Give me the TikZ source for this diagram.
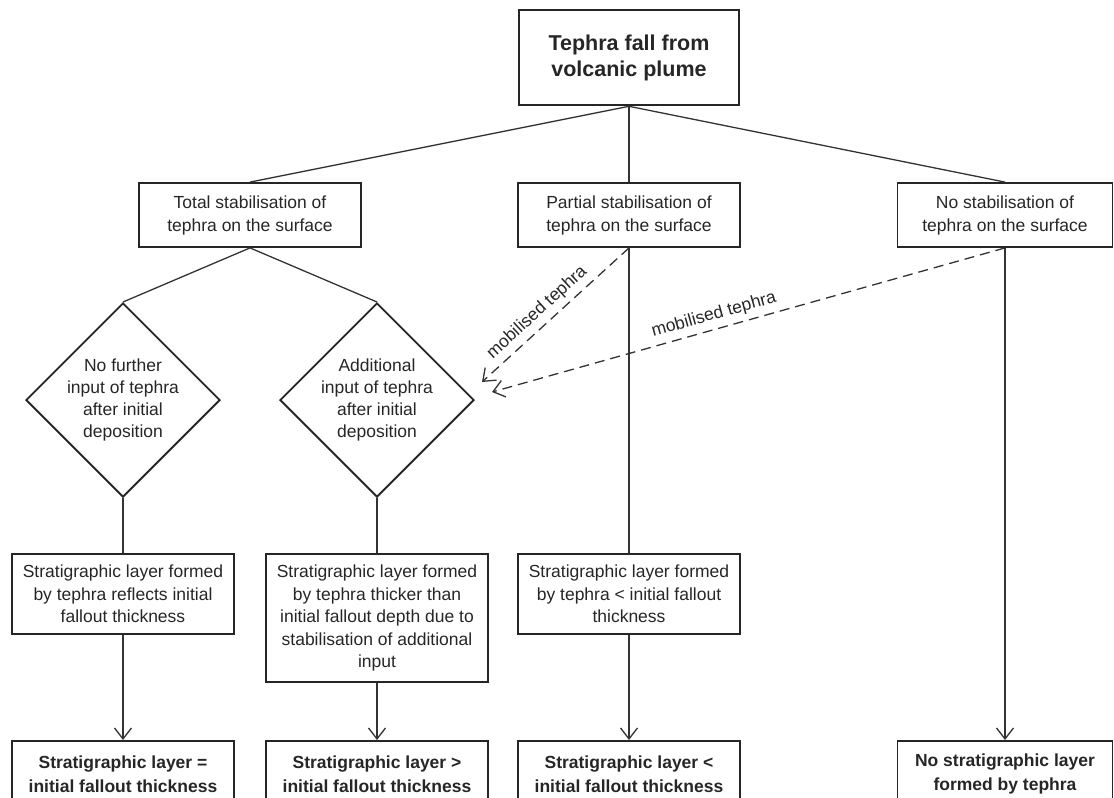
\documentclass[tikz,border=0pt]{standalone}
\usepackage{fontspec}
\setmainfont{Liberation Sans}
\usetikzlibrary{shapes.geometric,arrows.meta}

\begin{document}
\begin{tikzpicture}[x=1pt,y=-1pt]
    \useasboundingbox (0,0) rectangle (1114,798);
    \clip (0,0) rectangle (1114,798);

    \def\bw{222}
    \def\rowb{553}
    \def\rowc{740}

    \tikzstyle{plume}=[draw=black!85, line width=2.6pt, text=black!85, font=\fontsize{21.5}{26}\selectfont\bfseries, align=center, minimum width=220, minimum height=95]
    \tikzstyle{stab}=[draw=black!85, line width=1.8pt, text=black!85, font=\fontsize{17.5}{23}\selectfont, align=center, minimum width=\bw, minimum height=64, inner ysep=10pt]
    \tikzstyle{query}=[diamond, aspect=1, draw=black!85, line width=1.8pt, text=black!85, font=\fontsize{17.5}{22}\selectfont, align=center, inner sep=0pt, minimum width=180, minimum height=176]
    \tikzstyle{layer}=[anchor=north, draw=black!85, line width=1.8pt, text=black!85, font=\fontsize{17.5}{22.5}\selectfont, align=center, minimum width=\bw, inner ysep=11pt]
    \tikzstyle{result}=[anchor=north, draw=black!85, line width=1.8pt, text=black!85, font=\fontsize{17.5}{24}\selectfont\bfseries, align=center, minimum width=\bw, minimum height=66, inner ysep=10pt]

    \node[plume]  (plume) at (629,57.5) {Tephra fall from\\volcanic plume};
    \node[stab]  (total) at (250,215) {Total stabilisation of\\tephra on the surface};
    \node[stab]  (partial) at (629,215) {Partial stabilisation of\\tephra on the surface};
    \node[stab, minimum width=215]  (none) at (1005,215) {No stabilisation of\\tephra on the surface};
    \node[query]  (nofurther) at (123,400) {No further\\input of tephra\\after initial\\deposition};
    \node[query]  (additional) at (377,400) {Additional\\input of tephra\\after initial\\deposition};
    \node[layer]  (reflects) at (123,\rowb) {Stratigraphic layer formed\\by tephra reflects initial\\fallout thickness};
    \node[layer]  (thicker) at (377,\rowb) {Stratigraphic layer formed\\by tephra thicker than\\initial fallout depth due to\\stabilisation of additional\\input};
    \node[layer]  (less) at (629,\rowb) {Stratigraphic layer formed\\by tephra < initial fallout\\thickness};
    \node[result]  (equal) at (123,\rowc) {Stratigraphic layer =\\initial fallout thickness};
    \node[result]  (greater) at (377,\rowc) {Stratigraphic layer >\\initial fallout thickness};
    \node[result]  (lesser) at (629,\rowc) {Stratigraphic layer <\\initial fallout thickness};
    \node[result, minimum width=215]  (nolayer) at (1005,\rowc) {No stratigraphic layer\\formed by tephra};

    \coordinate (tipA) at (482,382);
    \coordinate (tipB) at (492,392);

    \tikzstyle{link} = [draw=black!80, line width=1.3pt]
    \tikzstyle{down} = [draw=black!80, line width=1.3pt, -{Straight Barb[length=11pt,width=17pt]}]
    \tikzstyle{mob} = [draw=black!80, line width=1.3pt, dash pattern=on 10pt off 6pt, -{Straight Barb[length=11pt,width=17pt]}]
    \tikzstyle{moblabel} = [text=black!85, font=\fontsize{17.5}{21}\selectfont, sloped, above=2pt]

          \draw [link] (plume.south) -- (total.north);
          \draw [link] (plume.south) -- (partial.north);
          \draw [link] (plume.south) -- (none.north);
          \draw [link] (total.south) -- (nofurther.north);
          \draw [link] (total.south) -- (additional.north);
          \draw [link] (nofurther.south) -- (reflects.north);
          \draw [link] (additional.south) -- (thicker.north);
          \draw [link] (partial.south) -- (less.north);
          \draw [down] (reflects.south) -- (equal.north);
          \draw [down] (thicker.south) -- (greater.north);
          \draw [down] (less.south) -- (lesser.north);
          \draw [down] (none.south) -- (nolayer.north);
          \draw [mob] (partial.south) -- node[moblabel, pos=0.56] {mobilised tephra} (tipA);
          \draw [mob] (none.south) -- node[moblabel, pos=0.56] {mobilised tephra} (tipB);

  \end{tikzpicture}
\end{document}
